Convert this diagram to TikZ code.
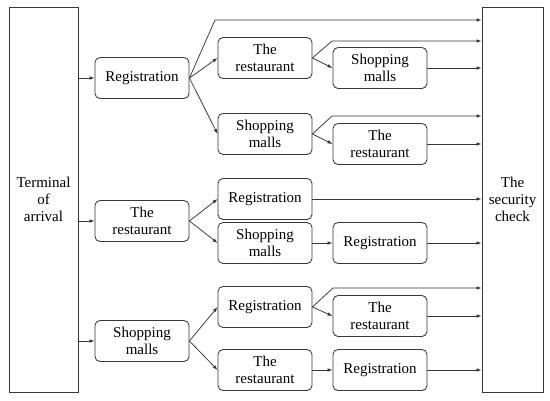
\documentclass[tikz,border=0pt]{standalone}
\usepackage{fontspec}
\setmainfont{Liberation Serif}
\usetikzlibrary{arrows.meta,positioning,calc}
\definecolor{fledge}{RGB}{55,55,55}
\tikzset{
  flbox/.style={
    draw=fledge, line width=0.85pt, rounded corners=5pt,
    align=center, inner sep=2pt, font=\rmfamily\fontsize{15}{17}\selectfont,
    minimum width=94pt, minimum height=41pt
  },
  endbox/.style={
    draw=fledge, line width=0.85pt, align=center, inner sep=2pt,
    font=\rmfamily\fontsize{15}{17}\selectfont, minimum height=385pt
  },
  arr/.style={-{Latex[length=5pt,width=3.6pt]}, draw=fledge, line width=0.75pt}
}

\begin{document}
\begin{tikzpicture}[x=1pt,y=-1pt]
  \useasboundingbox (0,0) rectangle (550,400);

  \node[endbox, minimum width=69pt] (term) at (43.5,199.5) {Terminal\\of\\arrival};
  \node[endbox, minimum width=61pt] (sec) at (512.5,199.5) {The\\security\\check};

  % first stop
  \node[flbox] (reg1) at (142,78) {Registration};
  \node[flbox] (rest1) at (142,221) {The\\restaurant};
  \node[flbox] (mall1) at (142,341) {Shopping\\malls};

  % second stop
  \node[flbox] (resta) at (265,58) {The\\restaurant};
  \node[flbox] (mallb) at (265,134) {Shopping\\malls};
  \node[flbox] (rega) at (265,199) {Registration};
  \node[flbox] (mallc) at (265,243) {Shopping\\malls};
  \node[flbox] (regb) at (265,307) {Registration};
  \node[flbox] (restb) at (265,370) {The\\restaurant};

  % third stop
  \node[flbox] (mallA) at (380,68) {Shopping\\malls};
  \node[flbox] (restB) at (380,144) {The\\restaurant};
  \node[flbox] (regC) at (380,243) {Registration};
  \node[flbox] (restD) at (380,316) {The\\restaurant};
  \node[flbox] (regE) at (380,370) {Registration};

  \coordinate (byp1) at (215,20);
  \coordinate (byp2) at (332,41);
  \coordinate (byp3) at (332,116);
  \coordinate (byp4) at (333,288);

  \draw[arr] (reg1 -| term.east) -- (reg1.west);
  \draw[arr] (rest1 -| term.east) -- (rest1.west);
  \draw[arr] (mall1 -| term.east) -- (mall1.west);

  \draw[arr] (reg1.east) -- (byp1) -- (byp1 -| sec.west);
  \draw[arr] (reg1.east) -- (resta.west);
  \draw[arr] (reg1.east) -- (mallb.west);
  \draw[arr] (resta.east) -- (byp2) -- (byp2 -| sec.west);
  \draw[arr] (resta.east) -- (mallA.west);
  \draw[arr] (mallA.east) -- (mallA -| sec.west);
  \draw[arr] (mallb.east) -- (byp3) -- (byp3 -| sec.west);
  \draw[arr] (mallb.east) -- (restB.west);
  \draw[arr] (restB.east) -- (restB -| sec.west);

  \draw[arr] (rest1.east) -- (rega.west);
  \draw[arr] (rest1.east) -- (mallc.west);
  \draw[arr] (rega.east) -- (rega -| sec.west);
  \draw[arr] (mallc.east) -- (regC.west);
  \draw[arr] (regC.east) -- (regC -| sec.west);

  \draw[arr] (mall1.east) -- (regb.west);
  \draw[arr] (mall1.east) -- (restb.west);
  \draw[arr] (regb.east) -- (byp4) -- (byp4 -| sec.west);
  \draw[arr] (regb.east) -- (restD.west);
  \draw[arr] (restD.east) -- (restD -| sec.west);
  \draw[arr] (restb.east) -- (regE.west);
  \draw[arr] (regE.east) -- (regE -| sec.west);
\end{tikzpicture}
\end{document}
